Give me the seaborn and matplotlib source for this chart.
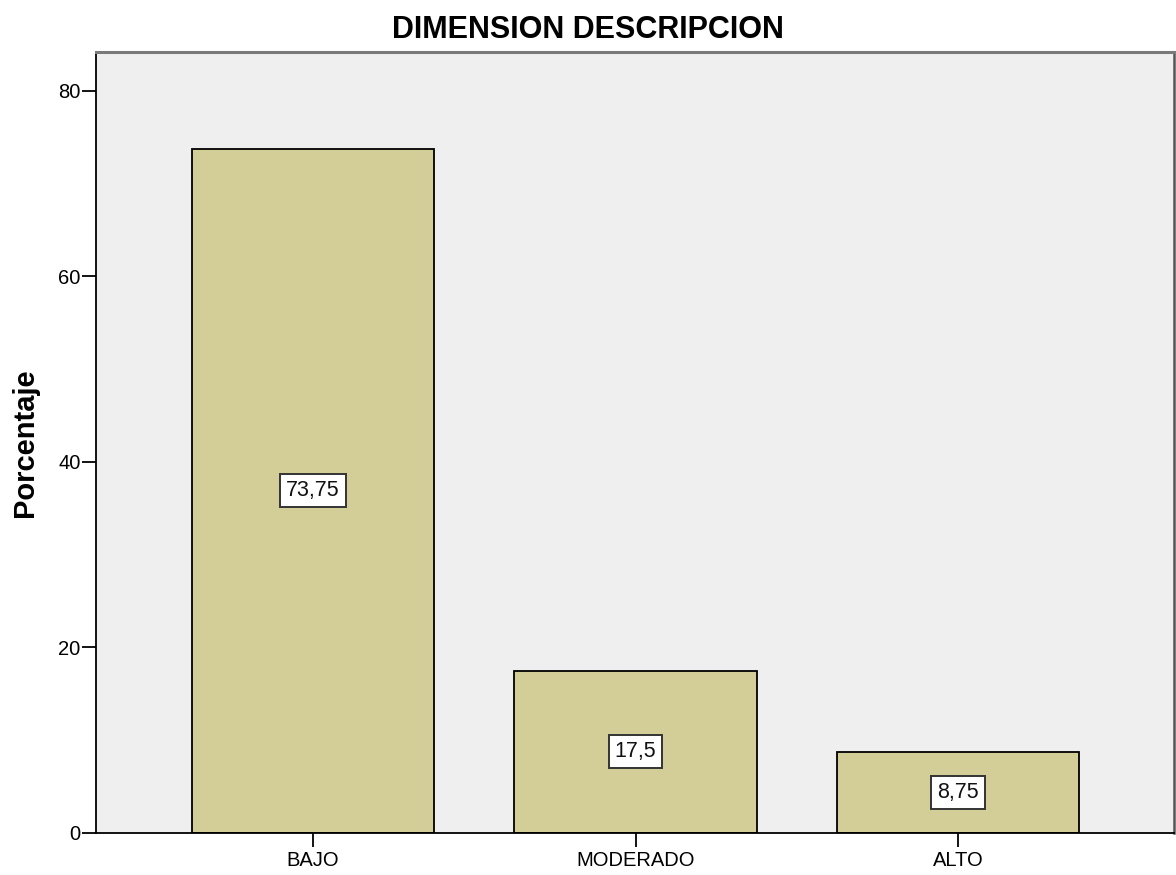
import matplotlib
matplotlib.use("Agg")
import matplotlib.pyplot as plt
import seaborn as sns

categories = ["BAJO", "MODERADO", "ALTO"]
percentages = [73.75, 17.5, 8.75]
value_labels = ["73,75", "17,5", "8,75"]
y_ticks = [0, 20, 40, 60, 80]

sns.set_style("white")
plt.rcParams["font.family"] = ["Liberation Sans", "DejaVu Sans"]
plt.rcParams["text.color"] = "black"
plt.rcParams["axes.labelcolor"] = "black"

fig = plt.figure(figsize=(11.76, 8.75), dpi=100)
ax = fig.add_axes([0.0816, 0.048, 0.9165, 0.8926])
ax.set_facecolor("#efefef")

sns.barplot(x=categories, y=percentages, color="#d3cd98", saturation=1,
            width=0.75, edgecolor="black", linewidth=1.3, ax=ax)

for i, (v, lab) in enumerate(zip(percentages, value_labels)):
    ax.text(i, v / 2, lab, ha="center", va="center", fontsize=15.5, color="#111111",
            bbox=dict(boxstyle="square,pad=0.28", facecolor="white",
                      edgecolor="#333333", linewidth=1.4))

ax.set_xlim(-0.672, 2.668)
ax.set_ylim(0, 84.2)
ax.set_yticks(y_ticks)
ax.set_yticklabels([str(t) for t in y_ticks])
ax.tick_params(axis="both", which="both", direction="out", length=10, width=1.3,
               colors="black", labelsize=14.5, left=True, bottom=True)
ax.tick_params(axis="y", pad=1)
ax.tick_params(axis="x", pad=3)

for side in ["left", "bottom"]:
    ax.spines[side].set_color("black")
    ax.spines[side].set_linewidth(1.3)
ax.spines["top"].set_color("#7a7a7a")
ax.spines["top"].set_linewidth(2.2)
ax.spines["right"].set_color("#555555")
ax.spines["right"].set_linewidth(1.8)

ax.set_xlabel("")
ax.set_ylabel("Porcentaje", fontsize=21, fontweight="bold", labelpad=14, color="black")
fig.suptitle("DIMENSION DESCRIPCION", fontsize=22, fontweight="bold", color="black",
             x=0.5, y=0.966, va="center")

fig.savefig("out.png", dpi=100, facecolor="white")
